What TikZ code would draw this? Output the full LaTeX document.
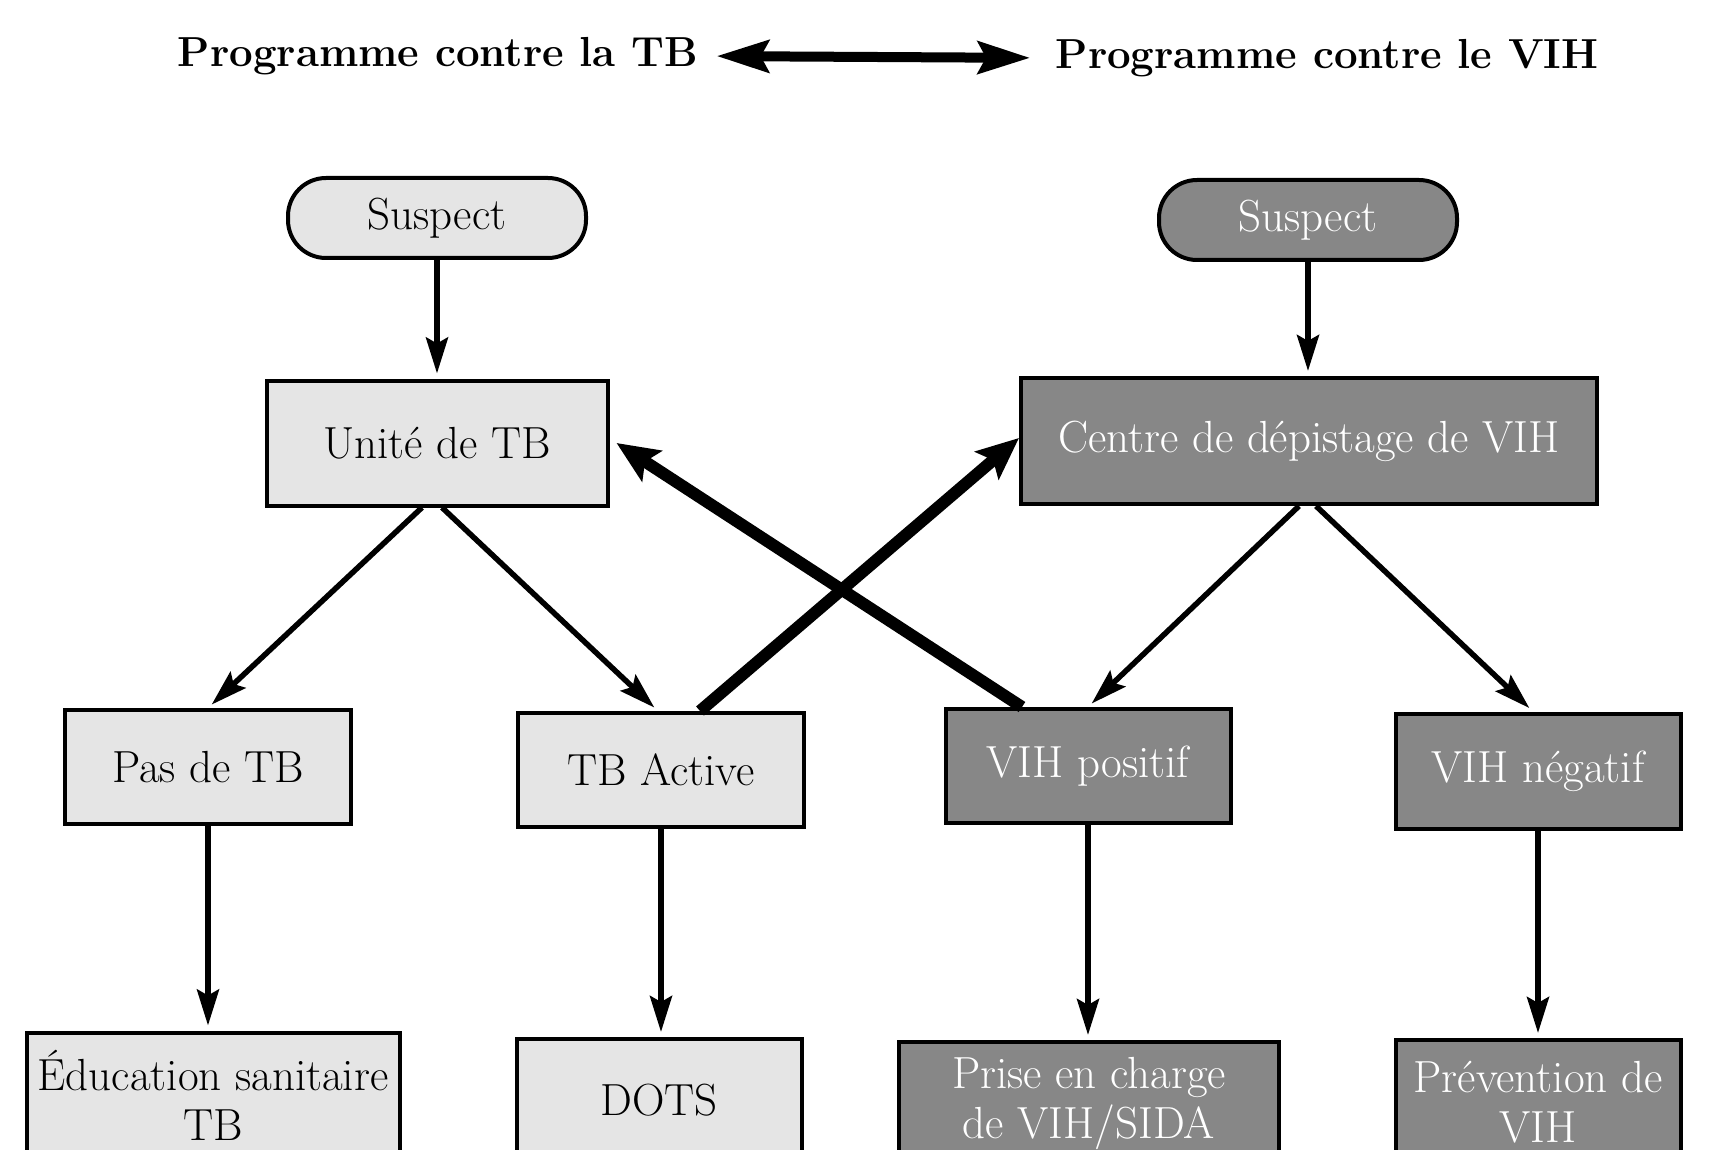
\documentclass[tikz,border=0pt]{standalone}
\usetikzlibrary{arrows.meta}
\tikzset{
  lightfill/.style={fill=black!10},
  darkfill/.style={fill=black!47, text=white},
  box/.style={draw, line width=4pt, align=center, inner sep=0pt,
    font=\fontsize{45}{50}\selectfont},
  suspectbox/.style={box, rounded corners=38pt, minimum width=298pt, minimum height=80pt},
  flow/.style={line width=5.5pt, -{Stealth[length=36pt,width=22pt,inset=6pt]}, shorten >=5pt},
  cross/.style={line width=12pt, -{Stealth[length=42pt,width=36pt,inset=8pt]}},
  link/.style={line width=10pt, {Stealth[length=52pt,width=32pt,inset=8pt]}-{Stealth[length=52pt,width=32pt,inset=8pt]}}
}
\begin{document}
\begin{tikzpicture}[x=1pt,y=-1pt]
      \useasboundingbox (0,0) rectangle (1719,1150);
      \clip (0,0) rectangle (1719,1150);
      \draw
        (438,56) node[font=\fontsize{42}{48}\selectfont\bfseries] (tbprog){Programme contre la TB}
        (1327,58) node[font=\fontsize{42}{48}\selectfont\bfseries] (vihprog){Programme contre le VIH};
      \draw
        (437,218) node[suspectbox, lightfill] (suspTB){Suspect}
        (1308,220) node[suspectbox, darkfill] (suspVIH){Suspect}
        (437,443) node[box, lightfill, minimum width=341pt, minimum height=125pt] (unite){Unité de TB}
        (1309,441) node[box, darkfill, minimum width=576pt, minimum height=126pt] (centre){Centre de dépistage de VIH}
        (208,767) node[box, lightfill, minimum width=286pt, minimum height=114pt] (pastb){Pas de TB}
        (661,770) node[box, lightfill, minimum width=286pt, minimum height=114pt] (tbactive){TB Active}
        (1088,766) node[box, darkfill, minimum width=285pt, minimum height=114pt] (vihpos){VIH positif}
        (1538,771) node[box, darkfill, minimum width=285pt, minimum height=115pt] (vihneg){VIH négatif}
        (213,1095) node[box, lightfill, minimum width=373pt, minimum height=125pt] (education){Éducation sanitaire\\TB}
        (659,1100) node[box, lightfill, minimum width=285pt, minimum height=122pt] (dots){DOTS}
        (1089,1103) node[box, darkfill, minimum width=380pt, minimum height=122pt] (priseencharge){Prise en charge\\de VIH/SIDA}
        (1538,1102) node[box, darkfill, minimum width=285pt, minimum height=124pt] (prevention){Prévention de\\VIH};
      \draw[link, shorten <=15pt, shorten >=22pt] (tbprog.east) to (vihprog.west);
      \begin{scope}[flow]
        \draw (suspTB.south) to (unite.north);
        \draw (suspVIH.south) to (suspVIH.south |- centre.north);
        \draw ([xshift=-15pt]unite.south) to (pastb.north);
        \draw ([xshift=5pt]unite.south) to ([xshift=-3pt]tbactive.north);
        \draw ([xshift=-10pt]centre.south) to (vihpos.north);
        \draw ([xshift=7pt]centre.south) to ([xshift=-5pt]vihneg.north);
        \draw (pastb.south) to (pastb.south |- education.north);
        \draw (tbactive.south) to (tbactive.south |- dots.north);
        \draw (vihpos.south) to (vihpos.south |- priseencharge.north);
        \draw (vihneg.south) to (prevention.north);
      \end{scope}
      \begin{scope}[cross]
        \draw ([xshift=39pt]tbactive.north) to ([yshift=3pt]centre.west);
        \draw ([xshift=-66pt]vihpos.north) to ([xshift=7pt]unite.east);
      \end{scope}
    \end{tikzpicture}
\end{document}
